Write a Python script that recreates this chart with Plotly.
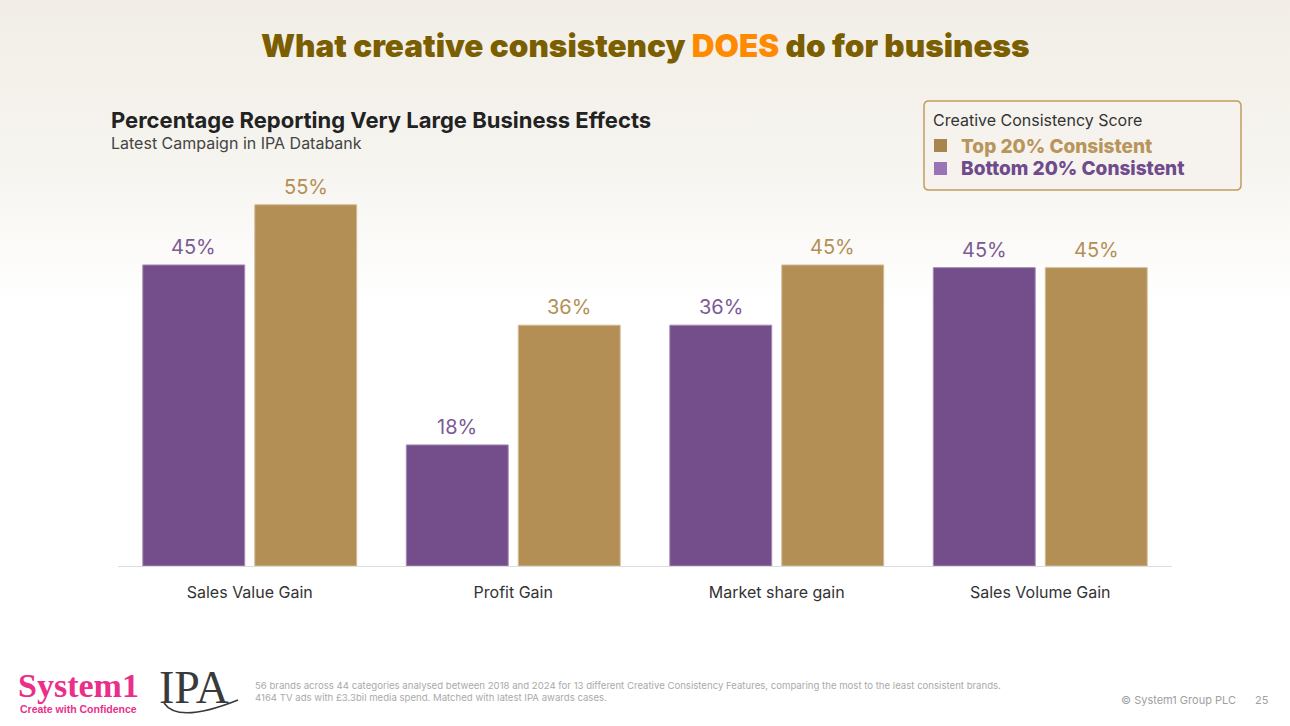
import base64
import plotly.graph_objects as go

# ---------------- data ----------------
categories = ["Sales Value Gain", "Profit Gain", "Market share gain", "Sales Volume Gain"]
bottom_values = [45.0, 18.1, 36.0, 44.6]      # Bottom 20% Consistent (bar heights)
top_values = [54.0, 36.0, 45.0, 44.6]         # Top 20% Consistent
bottom_labels = ["45%", "18%", "36%", "45%"]
top_labels = ["55%", "36%", "45%", "45%"]
series_names = ["Bottom 20% Consistent", "Top 20% Consistent"]
legend_title = "Creative Consistency Score"

W, H = 1290, 726
PURPLE = "#734e8a"
GOLD = "#b38f55"


def px(x):
    return x / W


def py(y):
    return 1 - y / H


fig = go.Figure()
fig.add_trace(go.Bar(
    x=categories, y=bottom_values, name=series_names[0],
    marker=dict(color=PURPLE, line=dict(color="#a58bb5", width=1)),
    showlegend=False, hoverinfo="skip"))
fig.add_trace(go.Bar(
    x=categories, y=top_values, name=series_names[1],
    marker=dict(color=GOLD, line=dict(color="#d2bd98", width=1)),
    showlegend=False, hoverinfo="skip"))

annotations = []
for cat, v, t in zip(categories, bottom_values, bottom_labels):
    annotations.append(dict(x=cat, y=v, xref="x", yref="y", text=t, showarrow=False,
                            xshift=-56, yshift=4, yanchor="bottom", xanchor="center",
                            font=dict(family="Inter", size=20, color="#7d5a95")))
for cat, v, t in zip(categories, top_values, top_labels):
    annotations.append(dict(x=cat, y=v, xref="x", yref="y", text=t, showarrow=False,
                            xshift=56, yshift=4, yanchor="bottom", xanchor="center",
                            font=dict(family="Inter", size=20, color="#b38f55")))


def note(x, y, text, font, xanchor="left", **kw):
    annotations.append(dict(x=px(x), y=py(y), xref="paper", yref="paper", showarrow=False,
                            xanchor=xanchor, yanchor="middle", text=text, font=font, **kw))


# Titles
note(645, 46,
     "What creative consistency <span style='color:#ff8a00'>DOES</span> do for business",
     dict(family="Inter", size=31.5, color="#7a5e00", weight=900), xanchor="center")
note(109, 120, "Percentage Reporting Very Large Business Effects",
     dict(family="Inter", size=22, color="#222222", weight=700))
note(109, 143, "Latest Campaign in IPA Databank",
     dict(family="Inter", size=16, color="#444444"))

# Legend (manual)
note(931, 120, legend_title, dict(family="Inter", size=16, color="#333333"))
note(959, 146, series_names[1], dict(family="Inter", size=19, color="#b8955a", weight=800))
note(959, 169, series_names[0], dict(family="Inter", size=19, color="#6f4a8c", weight=800))

# Footer
note(16, 685, "System1", dict(family="Liberation Serif", size=34, color="#ea2f8b", weight=700))
note(18, 709, "Create with Confidence",
     dict(family="Liberation Sans", size=10.5, color="#ea2f8b", weight=700))
note(157, 687, "IPA", dict(family="Liberation Serif", size=46, color="#3a3a3a"))
note(253, 691,
     ("56 brands across 44 categories analysed between 2018 and 2024 for 13 different "
      "Creative Consistency Features, comparing the most to the least consistent brands."
      "<br>4164 TV ads with £3.3bil media spend. Matched with latest IPA awards cases."),
     dict(family="Inter", size=9.6, color="#aaaaaa"), align="left")
note(1238, 700, "© System1 Group PLC", dict(family="Inter", size=11, color="#a0a0a0"),
     xanchor="right")
note(1271, 700, "25", dict(family="Inter", size=11, color="#a0a0a0"), xanchor="right")


def rounded_rect(x0, y0, x1, y1, r):
    def P(x, y):
        return f"{px(x):.5f},{py(y):.5f}"
    return (f"M {P(x0 + r, y0)} L {P(x1 - r, y0)} Q {P(x1, y0)} {P(x1, y0 + r)} "
            f"L {P(x1, y1 - r)} Q {P(x1, y1)} {P(x1 - r, y1)} "
            f"L {P(x0 + r, y1)} Q {P(x0, y1)} {P(x0, y1 - r)} "
            f"L {P(x0, y0 + r)} Q {P(x0, y0)} {P(x0 + r, y0)} Z")


shapes = [
    dict(type="path", xref="paper", yref="paper", path=rounded_rect(924, 101, 1241, 190, 5),
         line=dict(color="#c29d5e", width=1.5), fillcolor="#f6f3ee", layer="below"),
    dict(type="rect", xref="paper", yref="paper", x0=px(934), x1=px(947), y0=py(152), y1=py(139),
         line=dict(width=0), fillcolor="#a8844f"),
    dict(type="rect", xref="paper", yref="paper", x0=px(934), x1=px(947), y0=py(175), y1=py(162),
         line=dict(width=0), fillcolor="#9b74b8"),
    dict(type="path", xref="paper", yref="paper",
         path=f"M {px(164):.5f},{py(703):.5f} Q {px(178):.5f},{py(724):.5f} {px(238):.5f},{py(700):.5f}",
         line=dict(color="#3a3a3a", width=1.6)),
]

svg = ("<svg xmlns='http://www.w3.org/2000/svg' width='1290' height='726' preserveAspectRatio='none'>"
       "<defs><linearGradient id='g' x1='0' y1='0' x2='0' y2='1'>"
       "<stop offset='0' stop-color='#f2eee7'/><stop offset='0.22' stop-color='#f6f4ef'/>"
       "<stop offset='0.42' stop-color='#ffffff'/><stop offset='1' stop-color='#ffffff'/>"
       "</linearGradient></defs><rect width='1290' height='726' fill='url(#g)'/></svg>")
img_src = "data:image/svg+xml;base64," + base64.b64encode(svg.encode()).decode()

fig.update_layout(
    width=W, height=H,
    margin=dict(l=0, r=0, t=0, b=0),
    paper_bgcolor="#ffffff", plot_bgcolor="rgba(0,0,0,0)",
    barmode="group", bargap=0.15, bargroupgap=0.09,
    annotations=annotations, shapes=shapes,
    images=[dict(source=img_src, xref="paper", yref="paper", x=0, y=1, sizex=1, sizey=1,
                 sizing="stretch", layer="below", xanchor="left", yanchor="top")],
    xaxis=dict(domain=[px(118), px(1172)], range=[-0.5, 3.5], showgrid=False,
               showline=True, linecolor="#dcdcdc", linewidth=1, ticks="",
               tickfont=dict(family="Inter", size=16, color="#333333"), ticklabelstandoff=12,
               fixedrange=True),
    yaxis=dict(domain=[py(566), py(180)], range=[0, 57.7], showgrid=False, showline=False,
               zeroline=False, showticklabels=False, ticks="", fixedrange=True),
    showlegend=False,
)

fig.write_html("out.html", config={"displayModeBar": False},
               post_script="document.body.style.margin='0';document.body.style.padding='0';")
